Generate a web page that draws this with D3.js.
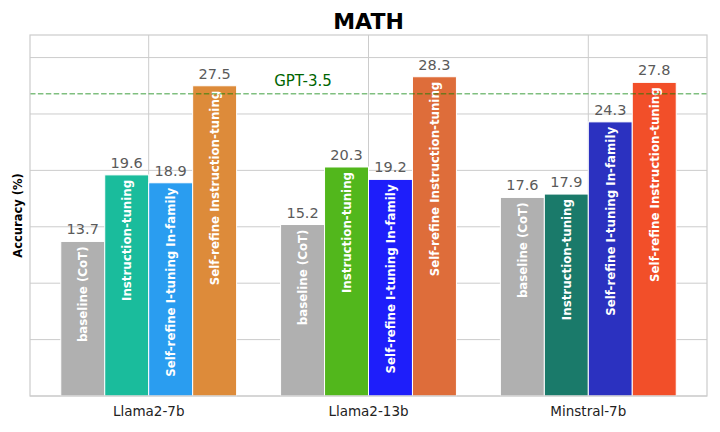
<!DOCTYPE html>
<html>
<head>
<meta charset="utf-8">
<script src="https://cdn.jsdelivr.net/npm/d3@7"></script>
<style>
  body { margin: 0; background: #fff; }
  svg { font-family: "DejaVu Sans", sans-serif; }
</style>
</head>
<body>
<div></div>
<script>
let models = ["Llama2-7b", "Llama2-13b", "Minstral-7b"]
let methods = ["baseline (CoT)", "Instruction-tuning", "Self-refine I-tuning In-family", "Self-refine Instruction-tuning"]
let scores = [
    [13.7, 19.6, 18.9, 27.5],
    [15.2, 20.3, 19.2, 28.3],
    [17.6, 17.9, 24.3, 27.8]
]
let colors = [
    ["#b0b0b0", "#1abc9c", "#2a9df0", "#dd8b3a"],
    ["#b0b0b0", "#52b71c", "#1e1efa", "#de6d3a"],
    ["#b0b0b0", "#1a7a6a", "#2b31c0", "#f24f29"]
]
let gpt35 = 26.8
let yTicks = [0, 5, 10, 15, 20, 25, 30]

let w = 720, h = 432
let plotL = 30, plotR = 707, plotT = 35, plotB = 396
let barW = 0.2

let svg = d3.select("div").append("svg").attr("width", w).attr("height", h)

let xScale = d3.scaleLinear().domain([-0.54, 2.54]).range([plotL, plotR])
let yScale = d3.scaleLinear().domain([0, 32]).range([plotB, plotT])

// grid
svg.append("g").selectAll("line").data(yTicks).enter().append("line")
    .attr("x1", plotL).attr("x2", plotR)
    .attr("y1", d => yScale(d)).attr("y2", d => yScale(d))
    .attr("stroke", "#cccccc").attr("stroke-width", 1)

svg.append("g").selectAll("line").data(models).enter().append("line")
    .attr("x1", (d, i) => xScale(i)).attr("x2", (d, i) => xScale(i))
    .attr("y1", plotT).attr("y2", plotB)
    .attr("stroke", "#cccccc").attr("stroke-width", 1)

let bars = []
scores.forEach((row, i) => row.forEach((v, j) => bars.push({ i: i, j: j, v: v })))

let bw = xScale(barW) - xScale(0)
let bx = d => xScale(d.i + (d.j - 1.5) * barW) - bw / 2

svg.append("g").selectAll("rect").data(bars).enter().append("rect")
    .attr("x", bx)
    .attr("y", d => yScale(d.v))
    .attr("width", bw)
    .attr("height", d => plotB - yScale(d.v))
    .attr("fill", d => colors[d.i][d.j])
    .attr("stroke", "#fff").attr("stroke-width", 1)

// value labels
svg.append("g").selectAll("text").data(bars).enter().append("text")
    .attr("x", d => bx(d) + bw / 2)
    .attr("y", d => yScale(d.v) - 7)
    .attr("text-anchor", "middle")
    .attr("font-size", 14.5)
    .attr("fill", "#5a5a5a")
    .text(d => d.v.toFixed(1))

// method names inside bars
svg.append("g").selectAll("text").data(bars).enter().append("text")
    .attr("transform", d => "translate(" + (bx(d) + bw / 2 + 4.3) + "," + (yScale(d.v) + 5) + ") rotate(-90)")
    .attr("text-anchor", "end")
    .attr("font-size", 11.8)
    .attr("font-weight", "bold")
    .attr("fill", "#fff")
    .text(d => methods[d.j])

// GPT-3.5 reference
svg.append("line")
    .attr("x1", plotL).attr("x2", plotR)
    .attr("y1", yScale(gpt35)).attr("y2", yScale(gpt35))
    .attr("stroke", "green").attr("stroke-opacity", 0.5)
    .attr("stroke-width", 1.5).attr("stroke-dasharray", "5.5,2.4")

svg.append("text")
    .attr("x", 303).attr("y", yScale(gpt35) - 8)
    .attr("text-anchor", "middle")
    .attr("font-size", 15)
    .attr("fill", "#006400")
    .text("GPT-3.5")

// frame
svg.append("rect")
    .attr("x", plotL).attr("y", plotT)
    .attr("width", plotR - plotL).attr("height", plotB - plotT)
    .attr("fill", "none").attr("stroke", "#cccccc").attr("stroke-width", 1.2)

// x axis labels
svg.append("g").selectAll("text").data(models).enter().append("text")
    .attr("x", (d, i) => xScale(i))
    .attr("y", plotB + 20)
    .attr("text-anchor", "middle")
    .attr("font-size", 13.5)
    .attr("fill", "#222")
    .text(d => d)

svg.append("text")
    .attr("transform", "translate(22," + ((plotT + plotB) / 2) + ") rotate(-90)")
    .attr("text-anchor", "middle")
    .attr("font-size", 11.5)
    .attr("font-weight", "bold")
    .text("Accuracy (%)")

svg.append("text")
    .attr("x", (plotL + plotR) / 2).attr("y", 29)
    .attr("text-anchor", "middle")
    .attr("font-size", 22)
    .attr("font-weight", "bold")
    .text("MATH")
</script>
</body>
</html>
